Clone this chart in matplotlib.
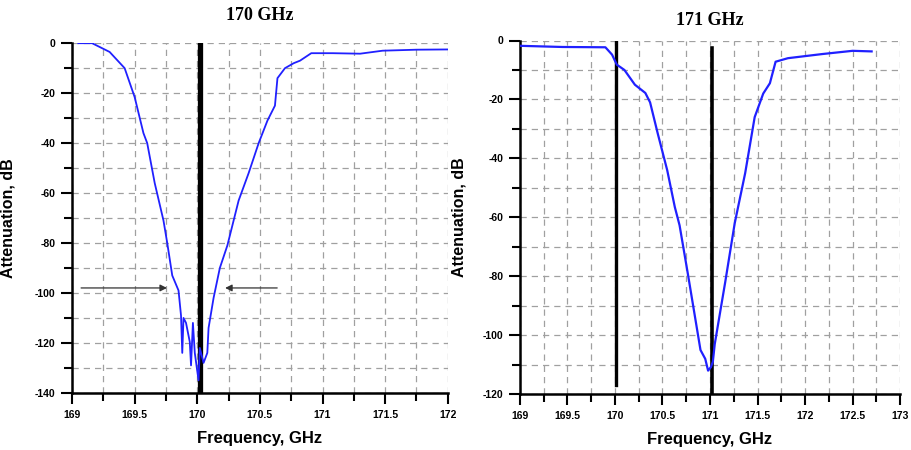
import matplotlib
matplotlib.use("agg")
import matplotlib.pyplot as plt
from matplotlib.ticker import MultipleLocator

plt.rcParams["axes.unicode_minus"] = False

# left panel: filter tuned at 170 GHz
F170 = [169.05, 169.16, 169.30, 169.42, 169.50, 169.57, 169.60, 169.66, 169.73, 169.76,
        169.80, 169.85, 169.87, 169.88, 169.89, 169.91, 169.94, 169.95, 169.965, 169.98,
        170.01, 170.02, 170.05, 170.08, 170.09, 170.13, 170.18, 170.24, 170.28, 170.33,
        170.41, 170.49, 170.56, 170.62, 170.64, 170.70, 170.77, 170.82, 170.91, 171.08,
        171.30, 171.48, 171.75, 172.00]
A170 = [0, 0, -3.5, -10, -21.6, -36, -40, -56, -71, -80,
        -93, -99, -109, -124, -110, -112, -119.6, -129, -112, -124,
        -135, -122, -128, -124, -114, -102, -90, -81, -73, -63,
        -52, -40, -31, -25, -14, -10, -8, -7, -4, -4,
        -4.2, -3, -2.6, -2.5]

# right panel: filter tuned at 171 GHz
F171 = [169.0, 169.45, 169.90, 169.97, 170.02, 170.10, 170.21, 170.32, 170.37, 170.45,
        170.55, 170.63, 170.68, 170.77, 170.90, 170.95, 170.98, 171.01, 171.03, 171.05,
        171.16, 171.26, 171.37, 171.47, 171.56, 171.63, 171.69, 171.82, 172.18, 172.50,
        172.70]
A171 = [-1.8, -2.2, -2.3, -4.8, -8.2, -10, -15, -17.8, -21, -31.5,
        -44, -56.5, -62.7, -79.7, -105, -108, -112, -110.8, -109, -103,
        -82, -62, -45, -26, -18, -14.5, -7.2, -6, -4.6, -3.5,
        -3.7]

LABEL_FONT = "Liberation Sans"


def style_axis(ax, xmax, ymin):
    ax.set_xlim(169, xmax)
    ax.set_ylim(ymin, 0)
    ax.xaxis.set_major_locator(MultipleLocator(0.5))
    ax.xaxis.set_minor_locator(MultipleLocator(0.25))
    ax.yaxis.set_major_locator(MultipleLocator(20))
    ax.yaxis.set_minor_locator(MultipleLocator(10))
    ax.grid(which="both", color="#a0a0a0", linestyle=(0, (5, 4)), linewidth=0.9)
    for s in ["top", "right"]:
        ax.spines[s].set_visible(False)
    for s in ["left", "bottom"]:
        ax.spines[s].set_linewidth(1.8)
    ax.tick_params(which="both", direction="out", width=1.5, labelsize=7.5)
    ax.tick_params(which="major", length=8, pad=4)
    ax.tick_params(which="minor", length=6)
    ax.xaxis.set_major_formatter(plt.FuncFormatter(lambda v, p: "%g" % v))
    for lbl in ax.get_xticklabels() + ax.get_yticklabels():
        lbl.set_fontweight("bold")
        lbl.set_fontfamily(LABEL_FONT)
    ax.set_xlabel("Frequency, GHz", fontsize=12, fontweight="bold",
                  fontfamily=LABEL_FONT, labelpad=8)
    ax.set_ylabel("Attenuation, dB", fontsize=11.5, fontweight="bold",
                  fontfamily=LABEL_FONT)


fig = plt.figure(figsize=(9.12, 4.5), dpi=100)

ax1 = fig.add_axes([0.079, 0.127, 0.412, 0.777])
ax1.plot(F170, A170, color="#2020ff", linewidth=1.3, zorder=4)
ax1.axvline(170.02, color="black", linewidth=3.8, zorder=3)
ax1.annotate("", xy=(169.78, -98), xytext=(169.05, -98),
             arrowprops=dict(arrowstyle="-|>", color="#333333", lw=0.9,
                             mutation_scale=10))
ax1.annotate("", xy=(170.20, -98), xytext=(170.66, -98),
             arrowprops=dict(arrowstyle="-|>", color="#333333", lw=0.9,
                             mutation_scale=10))
style_axis(ax1, 172, -140)
ax1.yaxis.set_label_coords(-0.15, 0.5)
ax1.set_title("170 GHz", fontsize=13, fontweight="bold",
              fontfamily="Liberation Serif", pad=17)

ax2 = fig.add_axes([0.570, 0.124, 0.417, 0.786])
ax2.plot(F171, A171, color="#2020ff", linewidth=1.6, zorder=4)
ax2.plot([170.01, 170.01], [0, -117], color="black", linewidth=2.4, zorder=3)
ax2.plot([171.02, 171.02], [-2.5, -120], color="black", linewidth=2.6, zorder=3)
style_axis(ax2, 173, -120)
ax2.yaxis.set_label_coords(-0.14, 0.5)
ax2.set_title("171 GHz", fontsize=13, fontweight="bold",
              fontfamily="Liberation Serif", pad=11)

plt.savefig("out.png", dpi=100)
